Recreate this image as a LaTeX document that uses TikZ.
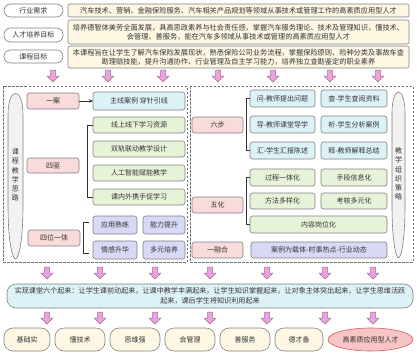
\documentclass[tikz,border=0pt]{standalone}
\usepackage{fontspec}
\newfontfamily\cjk{Noto Sans CJK SC}
\usetikzlibrary{arrows.meta,shapes.geometric}
\definecolor{txt}{HTML}{333333}
\definecolor{bordc}{HTML}{808080}
\definecolor{pinkf}{HTML}{FADBDB}
\definecolor{cyanf}{HTML}{DDF2F6}
\definecolor{greenf}{HTML}{E6F3D9}
\definecolor{bluef}{HTML}{D7D9F6}
\definecolor{creamf}{HTML}{FDF7E4}
\definecolor{arrf}{HTML}{E8A5DC}
\definecolor{arrd}{HTML}{A8689E}
\definecolor{ellf}{HTML}{F7C5C5}
\definecolor{elld}{HTML}{D45D5D}
\definecolor{pillf}{HTML}{F2F2F2}
\definecolor{dashc}{HTML}{707070}
\newcommand\mybox[7]{\node[#2, minimum width={#5pt-#3pt}, minimum height={#6pt-#4pt}] (#1) at ({(#3+#5)/2},{(#4+#6)/2}) {#7};}
\begin{document}
\begin{tikzpicture}[x=1pt,y=-1pt,
  every node/.style={font=\cjk\fontsize{7}{8.8}\selectfont, text=txt, inner sep=0pt, outer sep=0pt},
  basebox/.style={draw=bordc, line width=0.6pt, align=center, rounded corners=2.5pt},
  pinkb/.style={basebox, fill=pinkf},
  cyanb/.style={basebox, fill=cyanf},
  greenb/.style={basebox, fill=greenf},
  blueb/.style={basebox, fill=bluef},
  tbox/.style={basebox, fill=creamf, rounded corners=2pt, font=\cjk\fontsize{7.2}{9}\selectfont},
  pill/.style={basebox, fill=white, rounded corners=6.5pt},
  bigb/.style={basebox, fill=cyanf, rounded corners=9pt, font=\cjk\fontsize{7.1}{9.5}\selectfont},
  bpill/.style={basebox, fill=creamf, rounded corners=9pt},
  ellb/.style={draw=elld, line width=0.6pt, fill=ellf, shape=ellipse},
  vpill/.style={draw=bordc, line width=0.6pt, fill=pillf},
  vtext/.style={align=center, font=\cjk\fontsize{7}{9.2}\selectfont},
  brk/.style={draw=txt, line width=0.6pt},
  dbox/.style={draw=dashc, line width=0.6pt, dash pattern=on 2.5pt off 1.5pt},
  downarr/.pic={\filldraw[fill=arrf, draw=arrd, line width=0.5pt] (-2.5,-6) -- (2.5,-6) -- (2.5,0) -- (6,0) -- (0,6) -- (-6,0) -- (-2.5,0) -- cycle;}
]
\useasboundingbox (0,0) rectangle (417,359);

% top rows
\mybox{p1}{pill}{4}{4}{63}{17}{行业需求}
\mybox{t1}{tbox}{68}{4}{409}{17}{汽车技术、营销、金融保险服务、汽车相关产品规划等领域从事技术或管理工作的高素质应用型人才}
\mybox{p2}{pill}{4}{28}{63}{42}{人才培养目标}
\mybox{t2}{tbox}{68}{20}{409}{44}{培养德智体美劳全面发展，具高思政素养与社会责任感，掌握汽车服务理论、技术及管理知识，懂技术、\\会管理、善服务，能在汽车多领域从事技术或管理的高素质应用型人才}
\mybox{p3}{pill}{4}{50}{63}{63}{课程目标}
\mybox{t3}{tbox}{68}{46}{409}{68}{本课程旨在让学生了解汽车保险发展现状，熟悉保险公司业务流程，掌握保险原则、险种分类及事故车查\\勘理赔技能，提升沟通协作、行业管理及自主学习能力，培养独立查勘鉴定的职业素养}

% top arrows
\foreach \x in {53,108,163,218,273,330,378} \pic at (\x,76) {downarr};

% dashed frames
\draw[dbox] (3,86) rectangle (187,262);
\draw[dbox] (190,86) rectangle (413,262);

% left vertical pill
\draw[vpill] (8,115) .. controls (8,86) and (23,86) .. (23,115) -- (23,205) .. controls (23,245) and (18,259) .. (15.5,259) .. controls (13,259) and (8,245) .. (8,205) -- cycle;
\node[vtext] (lv) at (15.5,175) {课\\程\\教\\学\\思\\路};

% right vertical pill
\draw[vpill] (392,113) .. controls (392,85) and (405,85) .. (405,113) -- (405,205) .. controls (405,244) and (400.5,258) .. (398.5,258) .. controls (396.5,258) and (392,244) .. (392,205) -- cycle;
\node[vtext] (rv) at (398.5,174) {教\\学\\组\\织\\策\\略};

% left half
\mybox{ya}{pinkb}{27}{93}{79}{109}{一案}
\mybox{zx}{cyanb}{93}{92}{185}{110}{主线案例 穿针引线}
\mybox{g1}{greenb}{93}{117}{185}{133}{线上线下学习资源}
\mybox{g2}{greenb}{93}{141}{185}{157}{双轨联动教学设计}
\mybox{g3}{greenb}{93}{165}{185}{181}{人工智能赋能教学}
\mybox{g4}{greenb}{93}{189}{185}{205}{课内外携手促学习}
\mybox{sq}{pinkb}{27}{158}{79}{173}{四驱}
\mybox{sw}{pinkb}{28}{230}{80}{246}{四位一体}
\mybox{b1}{blueb}{93}{216}{137}{234}{应用熟练}
\mybox{b2}{blueb}{143}{216}{185}{234}{能力提升}
\mybox{b3}{blueb}{93}{241}{137}{259}{情感升华}
\mybox{b4}{blueb}{143}{241}{185}{259}{多元培养}

\draw[brk, -{Stealth[length=4pt,width=3.5pt]}] (ya) -- (zx);
\draw[brk] (g1.west) -- ++(-6,0) |- (g4.west);
\draw[brk] ([shift={(-4,-3)}]b1.west) -- ++(-6,0) |- ([shift={(-4,3)}]b3.west);

% right half
\mybox{lb}{pinkb}{192}{117}{243}{133}{六步}
\mybox{c1}{cyanb}{250}{90}{315}{107}{问-教师提出问题}
\mybox{c2}{cyanb}{321}{90}{387}{107}{查-学生查阅资料}
\mybox{c3}{cyanb}{250}{116}{315}{133}{导-教师课堂导学}
\mybox{c4}{cyanb}{321}{116}{387}{133}{析-学生分析案例}
\mybox{c5}{cyanb}{250}{142}{315}{159}{汇-学生汇报陈述}
\mybox{c6}{cyanb}{321}{142}{387}{159}{释-教师解释总结}
\mybox{w1}{greenb}{250}{169}{315}{186}{过程一体化}
\mybox{w2}{greenb}{321}{169}{387}{186}{手段信息化}
\mybox{w3}{greenb}{250}{193}{315}{209}{方法多样化}
\mybox{w4}{greenb}{321}{193}{387}{209}{考核多元化}
\mybox{w5}{greenb}{250}{216}{387}{233}{内容岗位化}
\mybox{wh}{pinkb}{192}{197}{243}{213}{五化}
\mybox{yr}{pinkb}{192}{242}{243}{258}{一融合}
\mybox{al}{blueb}{251}{242}{387}{258}{案例为载体-时事热点-行业动态}

\draw[brk] (c1.west) -- ++(-4,0) |- (c5.west);
\draw[brk] (w1.west) -- ++(-4,0) |- (w5.west);

% middle arrows
\foreach \x in {47,100,155,210,267,325,373} \pic at (\x,273) {downarr};

\mybox{sx}{bigb}{7}{284}{413}{308}{实现课堂六个起来：让学生课前动起来，让课中教学丰满起来，让学生知识掌握起来，让对象主体突出起来，让学生思维活跃\\起来，课后学生将知识利用起来}

% bottom arrows
\foreach \x in {47,100,155,210,267,325,373} \pic at (\x,318) {downarr};

% bottom pills
\mybox{q1}{bpill}{4}{328}{50}{351}{基础实}
\mybox{q2}{bpill}{55}{328}{105}{351}{懂技术}
\mybox{q3}{bpill}{110}{328}{160}{351}{思维强}
\mybox{q4}{bpill}{165}{328}{215}{351}{会管理}
\mybox{q5}{bpill}{220}{328}{270}{351}{善服务}
\mybox{q6}{bpill}{275}{328}{323}{351}{德才备}
\mybox{q7}{ellb}{328}{328}{413}{351}{高素质应用型人才}
\end{tikzpicture}
\end{document}
